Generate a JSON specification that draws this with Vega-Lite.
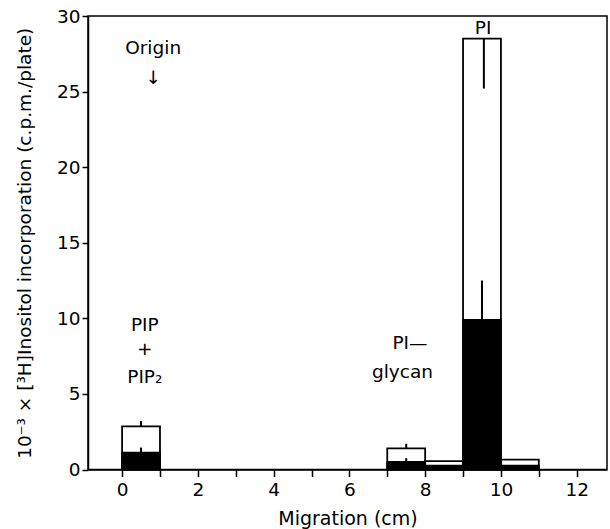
{
  "$schema": "https://vega.github.io/schema/vega-lite/v6.json",
  "autosize": "none",
  "width": 519,
  "height": 453.5,
  "padding": {"left": 88, "top": 16, "right": 3, "bottom": 59.5},
  "background": "white",
  "config": {
    "view": {"stroke": "black", "strokeWidth": 1.5},
    "font": "DejaVu Sans",
    "axis": {
      "grid": false,
      "domainColor": "black",
      "domainWidth": 1.5,
      "tickColor": "black",
      "tickWidth": 1.5,
      "tickSize": 6,
      "labelColor": "black",
      "labelFont": "DejaVu Sans",
      "labelFontSize": 18.5,
      "titleColor": "black",
      "titleFont": "DejaVu Sans",
      "titleFontWeight": "normal"
    }
  },
  "datasets": {
    "bars": [
      {"start": 0, "end": 1, "total": 2.85, "labelled": 1.12},
      {"start": 7, "end": 8, "total": 1.4, "labelled": 0.5},
      {"start": 8, "end": 9, "total": 0.55, "labelled": 0.25},
      {"start": 9, "end": 10, "total": 28.5, "labelled": 9.9},
      {"start": 10, "end": 11, "total": 0.65, "labelled": 0.25}
    ],
    "errors": [
      {"pos": 0.5, "from": 2.85, "to": 3.2},
      {"pos": 0.5, "from": 1.12, "to": 1.45},
      {"pos": 7.5, "from": 1.4, "to": 1.7},
      {"pos": 7.5, "from": 0.5, "to": 0.75},
      {"pos": 9.55, "from": 28.5, "to": 25.2},
      {"pos": 9.5, "from": 9.9, "to": 12.5}
    ],
    "labels": [
      {"x": 0.82, "y": 27.9, "t": "Origin"},
      {"x": 0.82, "y": 25.9, "t": "↓"},
      {"x": 0.6, "y": 9.55, "t": "PIP"},
      {"x": 0.6, "y": 7.97, "t": "+"},
      {"x": 0.6, "y": 6.1, "t": "PIP₂"},
      {"x": 7.6, "y": 8.4, "t": "PI—"},
      {"x": 7.4, "y": 6.45, "t": "glycan"},
      {"x": 9.53, "y": 29.2, "t": "PI"}
    ]
  },
  "layer": [
    {
      "data": {"name": "bars"},
      "mark": {"type": "rect", "fill": "white", "stroke": "black", "strokeWidth": 1.8},
      "encoding": {
        "x": {
          "field": "start", "type": "quantitative",
          "scale": {"domain": [-0.9, 12.8], "nice": false, "zero": false},
          "axis": {
            "title": "Migration (cm)",
            "titleFontSize": 19,
            "titlePadding": 10,
            "values": [0, 1, 2, 3, 4, 5, 6, 7, 8, 9, 10, 11, 12],
            "labelExpr": "datum.value % 2 == 0 ? datum.label : ''",
            "labelPadding": 4,
            "tickSize": 7
          }
        },
        "x2": {"field": "end"},
        "y": {
          "field": "total", "type": "quantitative",
          "scale": {"domain": [0, 30], "nice": false},
          "axis": {
            "title": "10⁻³ × [³H]Inositol incorporation  (c.p.m./plate)",
            "titleFontSize": 18.5,
            "titlePadding": 22,
            "values": [0, 5, 10, 15, 20, 25, 30],
            "labelPadding": 2
          }
        },
        "y2": {"datum": 0}
      }
    },
    {
      "data": {"name": "bars"},
      "mark": {"type": "rect", "fill": "black", "stroke": "black", "strokeWidth": 1.8},
      "encoding": {
        "x": {"field": "start", "type": "quantitative"},
        "x2": {"field": "end"},
        "y": {"field": "labelled", "type": "quantitative"},
        "y2": {"datum": 0}
      }
    },
    {
      "data": {"name": "errors"},
      "mark": {"type": "rule", "color": "black", "strokeWidth": 2},
      "encoding": {
        "x": {"field": "pos", "type": "quantitative"},
        "y": {"field": "from", "type": "quantitative"},
        "y2": {"field": "to"}
      }
    },
    {
      "data": {"name": "labels"},
      "mark": {"type": "text", "fontSize": 18.5, "font": "DejaVu Sans", "color": "black", "align": "center", "baseline": "middle"},
      "encoding": {
        "x": {"field": "x", "type": "quantitative"},
        "y": {"field": "y", "type": "quantitative"},
        "text": {"field": "t"}
      }
    }
  ]
}
